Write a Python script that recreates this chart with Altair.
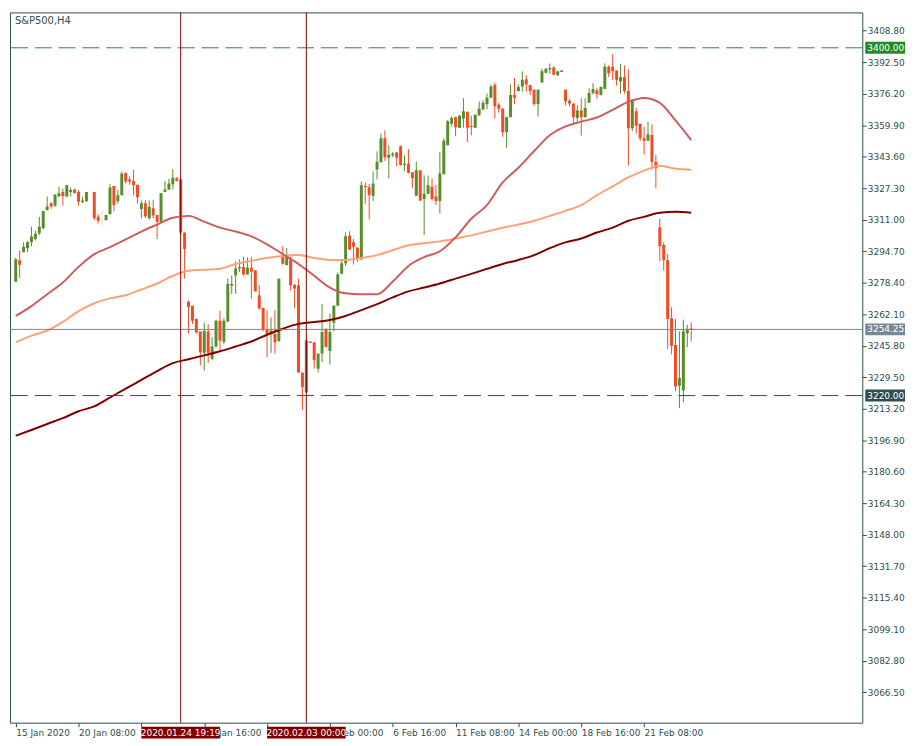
import altair as alt
import pandas as pd

# ---------------- data ----------------
symbol_title = "S&P500,H4"

# H4 candles, bar index 0..172 (None = no bar)
opens = [3278.9, 3290.1, 3294.2, 3296.2, 3299.3, 3301.0, 3304.0, 3306.7, 3315.9, 3319.6,
         3318.3, 3323.0, 3325.4, 3323.0, 3325.4, 3326.7, 3325.4, 3320.3, 3320.6, None,
         3325.4, 3312.5, 3310.5, 3310.8, 3313.8, 3328.4, 3320.6, 3323.7, 3335.2, 3331.8,
         3331.1, 3329.1, 3316.6, 3319.6, 3311.8, 3316.9, 3313.5, 3309.8, 3325.4, 3326.7,
         3329.4, 3332.5, 3331.8, 3304.4, 3268.5, 3266.5, 3259.7, 3253.2, 3242.1, 3253.2,
         3239.0, 3245.4, 3258.7, 3247.8, 3258.3, 3277.0, 3282.1, 3285.8, 3286.5, 3282.7,
         3286.1, 3284.8, 3271.9, 3265.4, 3254.3, 3251.9, 3251.9, 3248.2, 3292.2, 3287.5,
         3290.5, 3277.3, 3277.0, 3231.9, 3221.7, 3247.8, 3247.5, 3233.9, 3241.7, 3254.3,
         3243.1, 3257.7, 3266.5, 3283.1, 3288.5, 3302.7, 3299.3, 3296.6, 3290.5, 3328.5,
         3327.8, 3323.4, 3337.0, 3340.7, 3353.2, 3343.1, 3344.4, 3345.8, 3349.1, 3339.3,
         3340.0, 3335.6, 3323.4, 3336.6, 3321.7, 3324.4, 3328.1, 3323.0, 3320.7, 3334.6,
         3349.5, 3360.7, 3364.1, 3358.6, 3363.4, 3366.8, 3359.7, 3358.6, 3365.1, 3368.1,
         3370.8, 3374.2, 3380.7, 3370.5, 3368.5, 3356.3, 3364.1, 3375.6, 3377.6, 3380.0,
         3383.7, 3380.7, 3378.3, 3370.9, 3382.0, 3387.1, 3388.8, 3389.8, 3385.8, 3388.2,
         3378.3, 3372.6, 3371.2, 3363.7, 3367.5, 3364.1, 3371.5, 3376.6, 3378.0, 3375.6,
         3378.7, 3390.2, 3390.2, 3388.2, 3382.7, 3384.8, 3377.6, 3358.3, 3367.1, 3360.7,
         3353.2, 3351.9, 3354.9, 3341.0, 3307.1, 3297.9, 3290.1, 3260.0, 3246.1, 3225.1,
         3222.7, 3252.2, 3254.6]
highs = [3291.3, 3295.2, 3299.3, 3299.9, 3307.4, 3305.4, 3312.5, 3315.5, 3323.0, 3320.3,
         3324.4, 3328.1, 3327.1, 3328.8, 3327.7, 3327.1, 3326.4, 3323.0, 3325.4, None,
         3325.4, 3313.8, 3315.9, 3313.5, 3329.4, 3328.4, 3326.4, 3335.9, 3335.5, 3333.5,
         3336.9, 3329.1, 3321.0, 3321.0, 3321.0, 3321.3, 3313.5, 3324.7, 3331.1, 3332.2,
         3337.2, 3333.2, 3332.5, 3304.4, 3269.2, 3266.5, 3259.7, 3253.2, 3257.7, 3257.0,
         3250.2, 3259.3, 3263.8, 3260.0, 3280.7, 3282.1, 3289.5, 3290.5, 3291.9, 3291.5,
         3291.9, 3284.8, 3277.3, 3265.4, 3264.1, 3260.4, 3264.1, 3280.7, 3297.3, 3296.3,
         3291.9, 3277.7, 3280.4, 3231.9, 3248.5, 3248.2, 3247.5, 3241.7, 3267.5, 3254.9,
         3262.4, 3266.8, 3283.8, 3290.2, 3304.4, 3305.1, 3301.0, 3296.6, 3330.8, 3330.2,
         3329.5, 3335.9, 3346.4, 3355.6, 3357.3, 3349.5, 3346.1, 3346.1, 3349.5, 3344.4,
         3347.5, 3335.6, 3341.0, 3336.6, 3333.9, 3333.9, 3332.5, 3329.1, 3346.1, 3353.2,
         3362.7, 3364.4, 3364.4, 3365.1, 3373.9, 3367.1, 3364.8, 3365.4, 3372.2, 3372.9,
         3376.3, 3381.0, 3382.0, 3371.5, 3368.8, 3364.4, 3381.0, 3384.4, 3381.0, 3387.8,
         3385.8, 3380.7, 3378.3, 3378.3, 3389.2, 3389.5, 3391.9, 3390.5, 3387.8, 3388.5,
         3378.3, 3373.6, 3371.2, 3370.2, 3373.9, 3373.9, 3379.0, 3381.7, 3379.3, 3380.0,
         3391.9, 3390.9, 3396.6, 3388.2, 3391.5, 3390.9, 3388.8, 3373.2, 3368.8, 3360.7,
         3359.0, 3361.7, 3360.4, 3344.4, 3311.5, 3299.3, 3293.2, 3265.7, 3259.6, 3253.2,
         3259.3, 3256.6, 3257.9]
lows = [3278.9, 3281.0, 3294.2, 3294.2, 3297.2, 3300.3, 3303.0, 3306.0, 3315.9, 3316.6,
        3317.6, 3323.0, 3318.3, 3322.7, 3323.0, 3324.7, 3318.3, 3319.6, 3320.3, None,
        3310.8, 3309.1, 3307.4, 3310.8, 3313.8, 3315.5, 3319.3, 3323.7, 3329.8, 3329.1,
        3323.7, 3319.3, 3311.8, 3311.8, 3311.1, 3311.8, 3301.0, 3309.4, 3325.4, 3326.4,
        3326.7, 3330.8, 3303.0, 3280.5, 3252.2, 3257.0, 3252.2, 3235.6, 3232.9, 3237.0,
        3238.3, 3244.8, 3243.4, 3246.5, 3258.0, 3272.6, 3272.6, 3283.8, 3282.1, 3282.7,
        3270.2, 3273.9, 3264.4, 3253.2, 3239.7, 3242.1, 3241.7, 3247.8, 3287.8, 3287.5,
        3274.3, 3265.4, 3231.9, 3212.6, 3221.7, 3247.2, 3233.9, 3231.9, 3237.3, 3245.1,
        3236.0, 3253.2, 3266.5, 3282.7, 3287.0, 3295.3, 3287.8, 3289.1, 3290.2, 3319.3,
        3311.2, 3320.7, 3331.9, 3340.7, 3341.4, 3332.5, 3343.4, 3338.6, 3339.0, 3336.3,
        3334.9, 3327.5, 3323.4, 3320.7, 3303.0, 3324.4, 3321.0, 3318.6, 3314.2, 3334.6,
        3349.5, 3359.7, 3354.2, 3358.6, 3358.6, 3351.2, 3354.6, 3358.6, 3364.8, 3367.8,
        3368.1, 3374.2, 3363.4, 3366.4, 3353.9, 3348.1, 3364.1, 3370.8, 3377.3, 3377.3,
        3377.3, 3375.6, 3369.8, 3364.4, 3382.0, 3386.8, 3386.5, 3385.8, 3385.4, 3387.5,
        3370.2, 3369.8, 3360.7, 3361.7, 3354.6, 3364.1, 3371.5, 3375.9, 3373.6, 3375.3,
        3378.7, 3384.8, 3383.4, 3380.4, 3376.3, 3376.3, 3339.0, 3357.0, 3355.6, 3351.9,
        3344.8, 3351.9, 3337.0, 3327.5, 3289.5, 3284.7, 3244.0, 3241.3, 3222.3, 3213.5,
        3216.6, 3245.1, 3248.1]
closes = [3290.5, 3287.7, 3296.9, 3299.3, 3302.3, 3303.7, 3307.4, 3315.5, 3317.9, 3317.9,
          3324.0, 3324.7, 3323.3, 3328.8, 3326.4, 3324.7, 3320.3, 3321.0, 3325.4, None,
          3311.8, 3310.5, 3310.5, 3313.5, 3327.7, 3318.6, 3323.7, 3334.9, 3330.8, 3330.8,
          3328.8, 3322.7, 3319.6, 3312.8, 3317.6, 3313.2, 3309.8, 3324.7, 3326.7, 3329.8,
          3332.8, 3331.1, 3304.4, 3295.8, 3265.8, 3258.7, 3252.6, 3242.4, 3253.6, 3242.1,
          3245.4, 3258.7, 3248.5, 3258.7, 3277.7, 3277.7, 3285.8, 3286.5, 3282.7, 3286.1,
          3284.1, 3273.9, 3265.1, 3254.3, 3251.9, 3253.6, 3247.5, 3280.4, 3288.2, 3291.9,
          3277.0, 3275.3, 3231.9, 3224.4, 3248.5, 3247.2, 3238.3, 3241.7, 3252.9, 3245.1,
          3252.9, 3266.5, 3282.7, 3288.5, 3302.4, 3295.6, 3297.0, 3290.8, 3328.8, 3327.8,
          3323.7, 3329.8, 3341.0, 3353.2, 3343.4, 3344.7, 3345.1, 3343.1, 3339.3, 3340.0,
          3335.3, 3332.5, 3336.6, 3321.0, 3324.4, 3328.8, 3321.7, 3320.7, 3334.9, 3351.9,
          3362.0, 3363.7, 3359.0, 3364.8, 3367.1, 3358.6, 3359.0, 3365.4, 3368.5, 3371.5,
          3374.2, 3380.0, 3369.8, 3368.5, 3356.3, 3364.1, 3375.6, 3374.2, 3379.7, 3383.4,
          3381.0, 3377.6, 3370.9, 3378.3, 3387.8, 3389.2, 3389.5, 3386.1, 3387.8, 3387.5,
          3372.2, 3371.2, 3364.1, 3367.5, 3364.1, 3368.8, 3376.6, 3378.7, 3376.0, 3379.7,
          3390.2, 3386.8, 3387.8, 3383.4, 3384.8, 3377.6, 3358.3, 3373.2, 3359.7, 3353.2,
          3351.9, 3355.3, 3341.0, 3337.6, 3297.3, 3290.1, 3259.6, 3245.7, 3224.7, 3229.1,
          3253.2, 3254.5, 3254.25]

# moving averages sampled every 4 bars (bar 0 .. 172)
ma_bars = list(range(0, 173, 4))
ma_fast = [3261.2, 3266.3, 3272.4, 3278.5, 3286.6, 3293.2, 3296.8, 3300.8, 3304.9, 3308.5,
           3312.0, 3313.0, 3310.0, 3306.9, 3304.9, 3302.4, 3298.3, 3293.2, 3288.1, 3282.0,
           3275.9, 3272.9, 3272.4, 3272.4, 3279.0, 3287.1, 3291.7, 3294.7, 3301.9, 3311.5,
           3318.6, 3330.3, 3337.9, 3346.6, 3354.7, 3359.3, 3361.8, 3363.9, 3367.9, 3372.0,
           3374.0, 3371.5, 3362.4, 3352.2]
ma_mid = [3247.5, 3251.0, 3253.6, 3258.1, 3263.7, 3267.8, 3270.3, 3271.9, 3274.9, 3278.0,
          3282.0, 3284.6, 3285.1, 3285.6, 3288.1, 3289.7, 3291.2, 3292.2, 3292.7, 3291.2,
          3290.2, 3290.2, 3291.2, 3292.7, 3295.2, 3297.8, 3298.8, 3299.8, 3301.3, 3302.9,
          3304.9, 3306.9, 3308.5, 3310.5, 3313.0, 3315.6, 3318.6, 3323.7, 3328.3, 3332.9,
          3336.4, 3339.0, 3337.4, 3336.9]
ma_slow = [3199.2, 3202.2, 3205.3, 3208.3, 3211.9, 3214.4, 3219.0, 3223.6, 3228.1, 3232.7,
           3236.8, 3238.8, 3240.8, 3242.9, 3245.4, 3248.0, 3251.5, 3254.6, 3257.1, 3258.1,
           3259.1, 3261.2, 3264.2, 3267.3, 3270.8, 3273.9, 3275.9, 3278.0, 3280.5, 3283.0,
           3285.6, 3288.1, 3290.2, 3292.7, 3296.3, 3299.3, 3301.3, 3304.4, 3306.9, 3310.5,
           3312.5, 3314.6, 3315.1, 3314.6]

# horizontal levels
level_prices = [3400.0, 3220.0]
current_price = 3254.25

# vertical event lines
event_bars = [42, 74]
event_labels = ["2020.01.24 19:19", "2020.02.03 00:00"]

# axes ('' = label hidden behind an event box in the reference)
x_tick_bars = [0, 16, 32, 48, 64, 80, 96, 112, 128, 144, 160]
x_tick_labels = ["15 Jan 2020", "20 Jan 08:00", "", "27 Jan 16:00",
                 "", "4 Feb 00:00", "6 Feb 16:00", "11 Feb 08:00",
                 "14 Feb 00:00", "18 Feb 16:00", "21 Feb 08:00"]
y_ticks = [3066.5, 3082.8, 3099.1, 3115.4, 3131.7, 3148.0, 3164.3, 3180.6, 3196.9,
           3213.2, 3229.5, 3245.8, 3262.1, 3278.4, 3294.7, 3311.0, 3327.3, 3343.6,
           3359.9, 3376.2, 3392.5, 3408.8]

# ---------------- build ----------------
W, H = 858, 715
FONT = "DejaVu Sans"
FS = 9
SLATE = "#2F4F4F"
Y_LO, Y_HI = 3050.7, 3418.3
PX_PER_UNIT = H / (Y_HI - Y_LO)
BOX_HALF = 6.0 / PX_PER_UNIT          # half height of price label box (data units)
EVT_HALF = 40.0 / 4.0 * (W / 4.0) / (W / 4.0)  # half width of date box, in bars (4 px/bar)

candles = pd.DataFrame({"i": list(range(len(opens))), "open": opens, "high": highs,
                        "low": lows, "close": closes}).dropna()
candles["dir"] = ["up" if c > o else ("down" if c < o else "flat")
                  for o, c in zip(candles["open"], candles["close"])]
candles["blo"] = candles[["open", "close"]].min(axis=1)
candles["bhi"] = candles[["open", "close"]].max(axis=1)
candles["bhi"] = candles["bhi"].where(candles["bhi"] - candles["blo"] >= 0.5, candles["blo"] + 0.5)

ma_df = pd.concat([
    pd.DataFrame({"i": ma_bars, "v": ma_slow, "ma": "slow"}),
    pd.DataFrame({"i": ma_bars, "v": ma_mid, "ma": "mid"}),
    pd.DataFrame({"i": ma_bars, "v": ma_fast, "ma": "fast"}),
])

levels = pd.DataFrame({"price": level_prices, "kind": ["top", "bottom"]})
cur = pd.DataFrame({"price": [current_price], "kind": ["current"]})
all_labels = pd.concat([levels, cur])
events = pd.DataFrame({"i": event_bars, "label": event_labels})

xscale = alt.Scale(domain=[-0.2, -0.2 + W / 4.0], nice=False, zero=False)
yscale = alt.Scale(domain=[Y_LO, Y_HI], nice=False, zero=False)

label_expr = "[" + ",".join("'%s'" % s for s in x_tick_labels) + "][round(datum.value/16)]"
xaxis = alt.Axis(values=x_tick_bars, labelExpr=label_expr, title=None, grid=False,
                 domain=False, tickSize=4, tickColor=SLATE, labelAlign="left",
                 labelBaseline="top", labelPadding=2, labelColor=SLATE,
                 labelOverlap=False, labelFlush=False, labelBound=False)
yaxis = alt.Axis(values=y_ticks, format=".2f", orient="right", title=None, grid=False,
                 domain=False, tickSize=4, tickColor=SLATE, labelPadding=1,
                 labelColor=SLATE, labelOverlap=False, labelFlush=False,
                 labelBaseline="middle")


def X(field="i"):
    return alt.X(f"{field}:Q", scale=xscale, axis=xaxis)


def Y(field):
    return alt.Y(f"{field}:Q", scale=yscale, axis=yaxis)


dir_color = alt.Color("dir:N", scale=alt.Scale(domain=["up", "down", "flat"],
                                               range=["#578E2C", "#F14C23", "#F3DDCC"]),
                      legend=None)

wicks = alt.Chart(candles).mark_rule(strokeWidth=1, clip=True).encode(
    x=X(), y=Y("low"), y2="high:Q", color=dir_color)
bodies = alt.Chart(candles).mark_bar(width=3, clip=True).encode(
    x=X(), y=Y("blo"), y2="bhi:Q", color=dir_color)

mas = alt.Chart(ma_df).mark_line(strokeWidth=2, clip=True, interpolate="monotone").encode(
    x=X(), y=Y("v"),
    color=alt.Color("ma:N", scale=alt.Scale(domain=["slow", "mid", "fast"],
                                            range=["#800000", "#FFA07A", "#CD5C5C"]),
                    legend=None),
    detail="ma:N")

level_color = alt.Color("kind:N", scale=alt.Scale(domain=["top", "bottom", "current"],
                                                  range=["#228B22", SLATE, "#778899"]),
                        legend=None)

level_lines = alt.Chart(levels).mark_rule(strokeWidth=1, strokeDash=[17, 7]).encode(
    y=Y("price"), color=level_color)
cur_line = alt.Chart(cur).mark_rule(strokeWidth=1).encode(y=Y("price"), color=level_color)

event_lines = alt.Chart(events).mark_rule(strokeWidth=1, color="#800000").encode(x=X())

label_boxes = alt.Chart(all_labels).transform_calculate(
    lo=f"datum.price - {BOX_HALF}", hi=f"datum.price + {BOX_HALF}"
).mark_rect().encode(
    x=alt.value(W + 3), x2=alt.value(W + 43), y=Y("lo"), y2="hi:Q", color=level_color)
label_texts = alt.Chart(all_labels).mark_text(
    align="left", baseline="middle", color="white", font=FONT, fontSize=FS).encode(
    x=alt.value(W + 5), y=Y("price"), text=alt.Text("price:Q", format=".2f"))

event_boxes = alt.Chart(events).transform_calculate(
    l=f"datum.i - {EVT_HALF}", r=f"datum.i + {EVT_HALF}"
).mark_rect(color="#800000").encode(
    x=X("l"), x2="r:Q", y=alt.value(H + 4), y2=alt.value(H + 16))
event_texts = alt.Chart(events).mark_text(
    align="center", baseline="middle", color="white", font=FONT, fontSize=FS).encode(
    x=X(), y=alt.value(H + 10.5), text="label:N")

title = alt.Chart(pd.DataFrame({"t": [symbol_title]})).mark_text(
    align="left", baseline="middle", color=SLATE, font=FONT, fontSize=10).encode(
    x=alt.value(5), y=alt.value(9), text="t:N")

chart = alt.layer(
    wicks, bodies, mas, level_lines, cur_line, event_lines,
    label_boxes, label_texts, event_boxes, event_texts, title
).resolve_scale(
    color="independent"
).properties(
    width=W, height=H, background="white",
    padding={"left": 1, "top": 1, "right": 2, "bottom": 2}
).configure_view(
    stroke=SLATE, strokeWidth=1
).configure_axis(
    labelFont=FONT, labelFontSize=FS
)

chart.save("out.html", embed_options={"renderer": "svg", "actions": False})
